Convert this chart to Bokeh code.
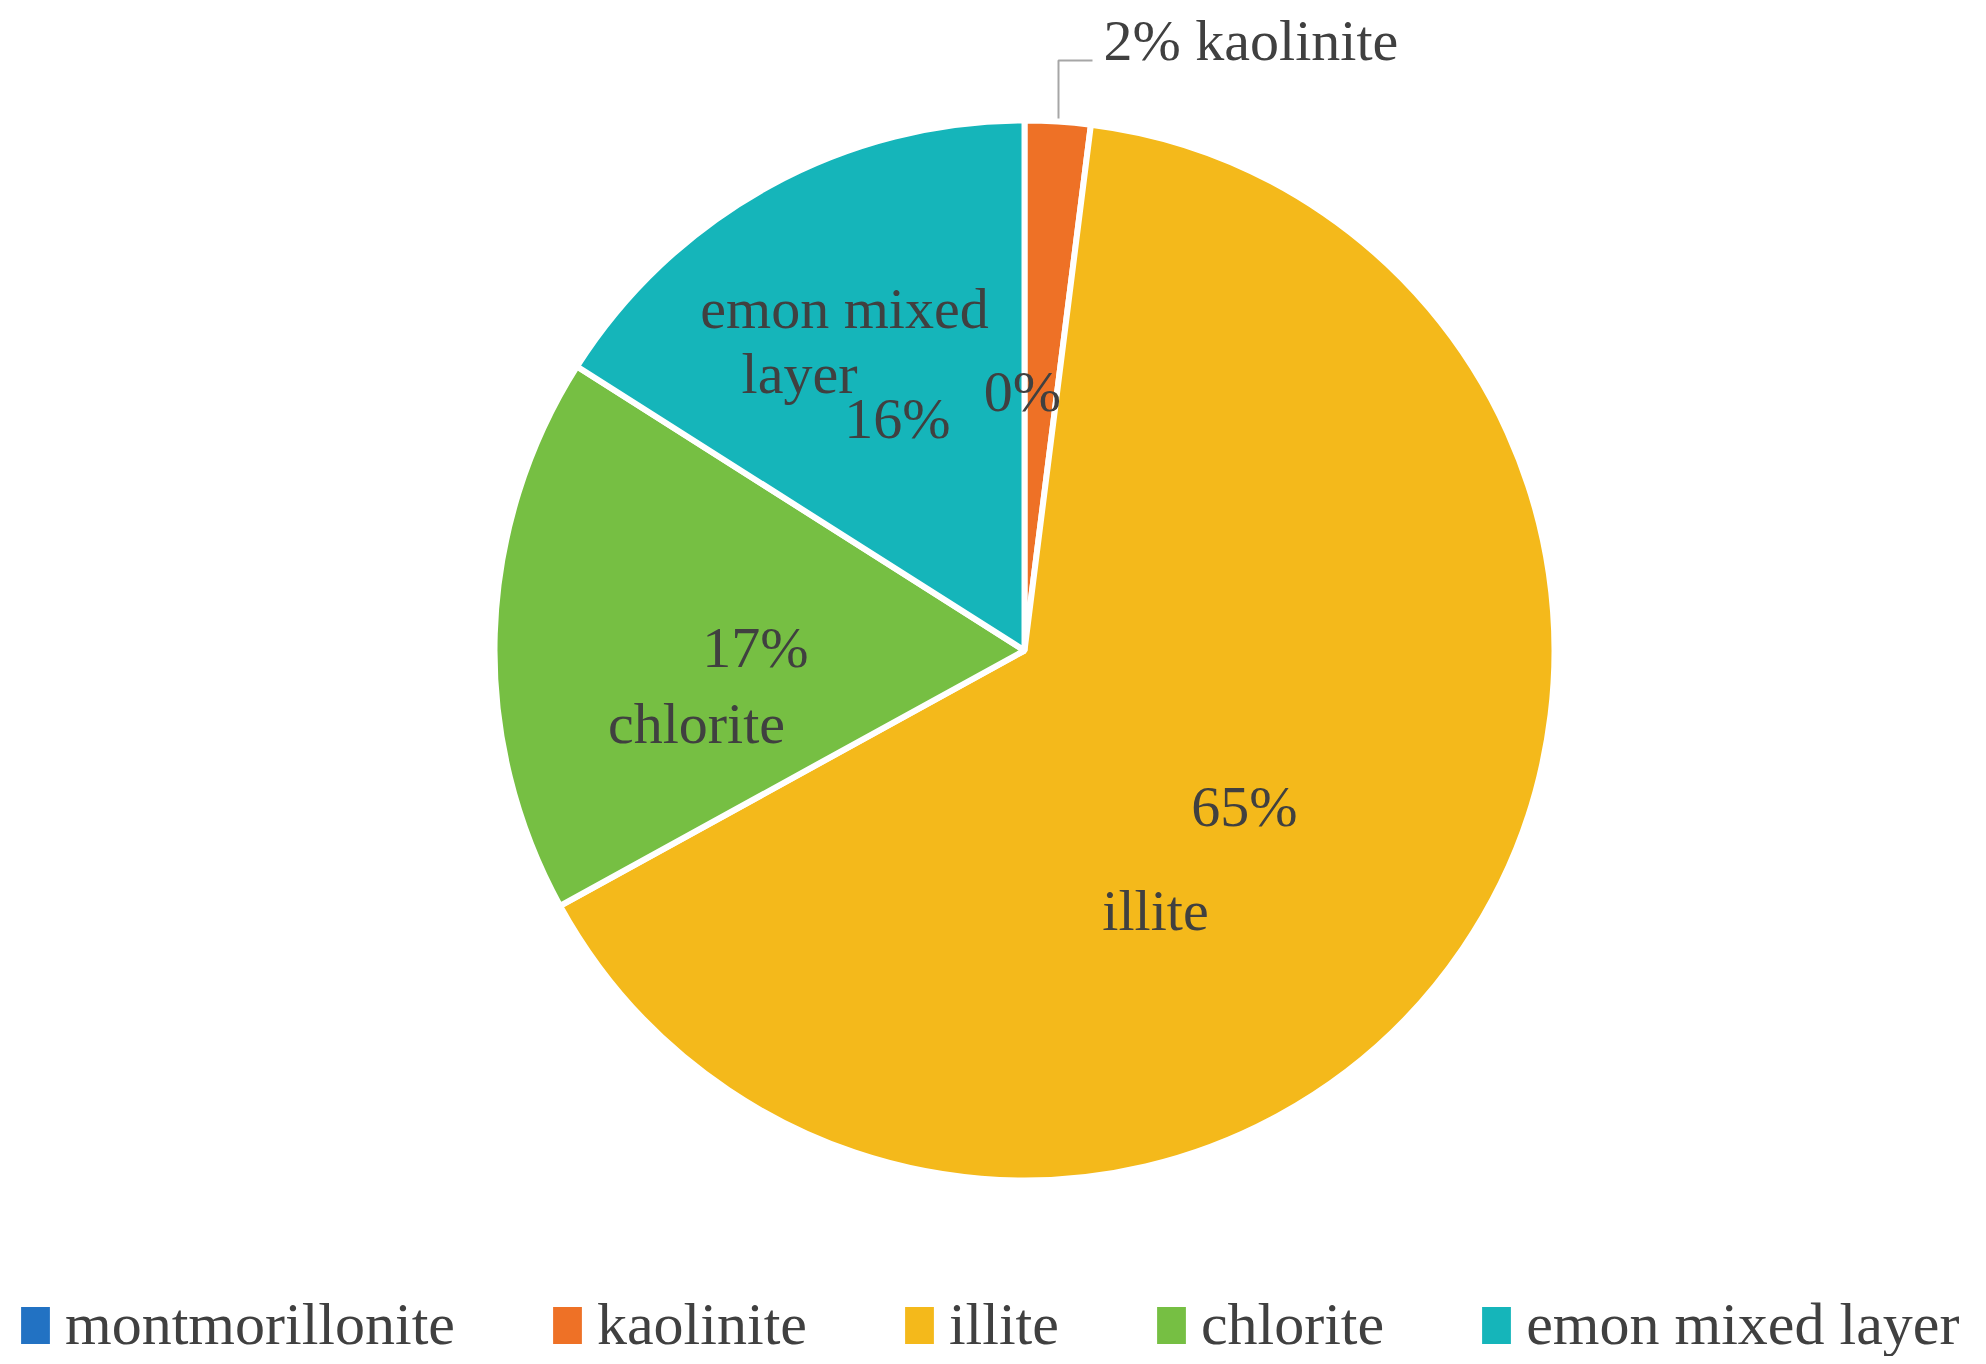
import math
from bokeh.plotting import figure
from bokeh.models import Range1d, Legend, LegendItem, ColumnDataSource
from bokeh.embed import file_html
from bokeh.resources import INLINE
from bokeh.core.properties import value

# ---- data ----
categories = ["montmorillonite", "kaolinite", "illite", "chlorite", "emon mixed layer"]
percent = [0, 2, 65, 17, 16]
colors = ["#2272C3", "#EE7126", "#F4B91B", "#76BF43", "#15B5BA"]

# in-slice label texts (layout positions given separately below)
label_texts = ["emon mixed", "layer", "16%", "0%", "17%", "chlorite", "65%", "illite"]
outside_label = "2% kaolinite"

FONT = "Liberation Serif"
TXT = "#404040"

W, H = 1970, 1356
p = figure(width=W, height=H, x_range=Range1d(0, W), y_range=Range1d(0, H),
           output_backend="svg", toolbar_location=None, min_border=0,
           outline_line_color=None)
p.axis.visible = False
p.grid.visible = False

# screen coords -> data coords (y flipped)
def px(x):
    return x
def py(y):
    return H - y

TEXT_DY = 22  # compensation for text baseline placement

cx, cy, R = px(1024), py(650), 530
total = float(sum(percent))
starts, ends = [], []
a = math.pi / 2
for v in percent:
    starts.append(a)
    a -= v / total * 2 * math.pi
    ends.append(a)

src = ColumnDataSource(dict(cat=categories, val=percent, start=starts, end=ends, color=colors))
r = p.wedge(x=cx, y=cy, radius=R, start_angle="start", end_angle="end", direction="clock",
            fill_color="color", line_color="white", line_width=6, source=src)
# zero-size renderer used only to supply clean legend swatches
r_leg = p.wedge(x=cx, y=cy, radius=0, start_angle="start", end_angle="end", direction="clock",
                fill_color="color", line_color=None, source=src)

# in-slice labels
lab_pos = [(844, 330), (799, 395), (897, 440), (1022, 413), (755, 669), (696, 745), (1244, 828), (1155, 932)]
p.text(x=[px(x) for x, _ in lab_pos], y=[py(y) + TEXT_DY for _, y in lab_pos], text=label_texts,
       text_font=value(FONT), text_font_size="58px", text_color=TXT,
       text_align="center", text_baseline="alphabetic")

# outside label with leader line
p.line(x=[px(1058), px(1058), px(1092)], y=[py(118), py(60), py(60)], line_color="#A6A6A6", line_width=2)
p.text(x=[px(1103)], y=[py(62) + TEXT_DY], text=[outside_label], text_font=value(FONT), text_font_size="58px",
       text_color=TXT, text_align="left", text_baseline="alphabetic")

items = [LegendItem(label=c, renderers=[r_leg], index=i) for i, c in enumerate(categories)]
legend = Legend(items=items, orientation="horizontal", location=(17, -3),
                glyph_width=36, glyph_height=46, label_standoff=12, spacing=94,
                padding=0, margin=0, border_line_alpha=0, background_fill_alpha=0,
                label_text_font=FONT, label_text_font_size="60px", label_text_color=TXT)
p.add_layout(legend, "center")

open("out.html", "w").write(file_html(p, INLINE))
